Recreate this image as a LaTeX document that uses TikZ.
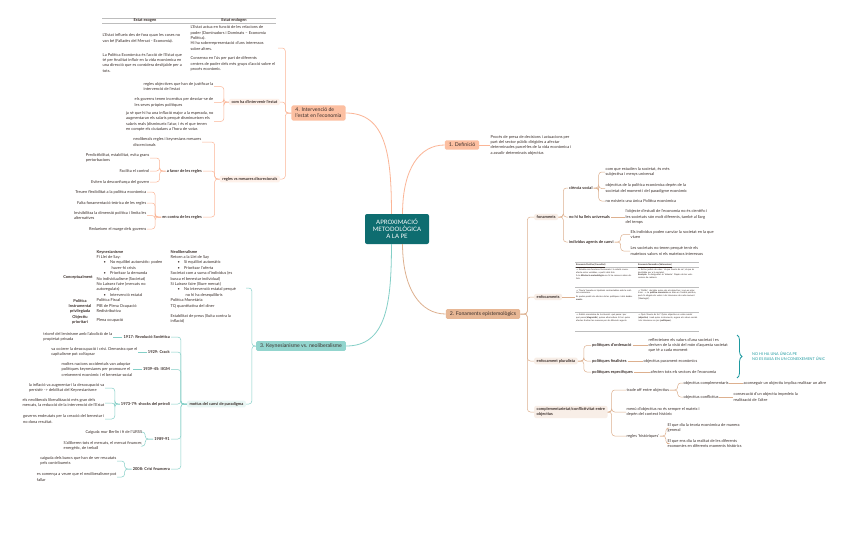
\documentclass[tikz,border=0pt]{standalone}
\usepackage{fontspec}
\setmainfont{Lato}
\newfontfamily\arrowfont{DejaVu Sans}
\usetikzlibrary{positioning,calc,decorations.pathreplacing}
\definecolor{deepteal}{HTML}{0E6D70}
\definecolor{peach}{HTML}{FCBFA1}
\definecolor{peachline}{HTML}{FBB596}
\definecolor{peachpale}{HTML}{FEF1EA}
\definecolor{tan}{HTML}{E7B795}
\definecolor{tanline}{HTML}{DDB08F}
\definecolor{tanpale}{HTML}{F8EEE7}
\definecolor{mint}{HTML}{93D5CE}
\definecolor{mintline}{HTML}{84CFC7}
\definecolor{mintpale}{HTML}{E9F6F4}
\definecolor{ink}{HTML}{3A2E2A}
\definecolor{rule}{HTML}{BDBDBD}
\definecolor{bracecol}{HTML}{1E9AA0}
\newcommand\leaffont{\fontsize{4}{5.3}\selectfont}
\newcommand\tabfont{\fontsize{2.2}{2.6}\selectfont}
\newcommand\arw{{\arrowfont →}}

\begin{document}
\begin{tikzpicture}[x=1pt,y=-1pt,
  leaf/.style={inner sep=0.5pt,align=left,font=\leaffont,text=ink},
  leafr/.style={leaf,anchor=east},
  leafl/.style={leaf,anchor=west},
  key/.style={inner sep=1pt,font=\leaffont\bfseries,text=ink},
  keybox/.style={key,rounded corners=2pt,inner xsep=2.5pt,inner ysep=1.6pt},
  branch/.style={rounded corners=1.5pt,inner xsep=4pt,inner ysep=2.6pt,
                 font=\fontsize{5.2}{6.2}\selectfont,text=ink,align=left},
  cell/.style={inner sep=0pt,anchor=north west,align=left,font=\tabfont,text=ink},
  w4/.style={draw=peachline,line width=0.5pt,rounded corners=3pt},
  w2/.style={draw=tanline,line width=0.5pt,rounded corners=3pt},
  w3/.style={draw=mintline,line width=0.5pt,rounded corners=3pt}]
  \fill[white] (0,0) rectangle (848,536);
  \useasboundingbox (0,0) rectangle (848,536);

  % centre and main branches
  \node[fill=deepteal,rounded corners=2pt,minimum width=64,minimum height=30,text=white,
        align=center,font=\fontsize{6}{7.2}\selectfont] (root) at (397,229)
       {APROXIMACIÓ\\METODOLÒGICA\\A LA PE};
  \node[branch,fill=peach] (b1) at (462,145) {1. Definició};
  \node[branch,fill=tan] (b2) at (483,314) {2. Fonaments epistemològics};
  \node[branch,fill=mint] (b3) at (301,346) {3. Keynesianisme vs. neoliberalisme};
  \node[branch,fill=peach] (b4) at (318.5,113) {4. Intervenció de\\l'estat en l'economia};
  \draw[peachline,line width=0.8pt] (root.110) .. controls +(0,-60) and +(40,0) .. (b4.east);
  \draw[peachline,line width=0.8pt] (root.70) .. controls +(0,-45) and +(-25,0) .. (b1.west);
  \draw[tanline,line width=0.8pt] (root.290) .. controls +(0,45) and +(-25,0) .. (b2.west);
  \draw[mintline,line width=0.8pt] (root.250) .. controls +(0,60) and +(40,0) .. (b3.east);

  % 1. Definició
  \node[leafl] (def) at (490,145) {Procés de presa de decisions i actuacions per\\part del sector públic dirigides a afectar\\determinades parcel·les de la vida econòmica i\\a assolir determinats objectius};
  \draw[w4] (b1.east) -- (def.west);

  % 4. Intervenció de l'estat
  \coordinate (t4) at (278,48);
  \node[keybox,fill=peachpale,anchor=east] (c41) at (280,102) {com ha d'intervenir l'estat};
  \node[keybox,fill=peachpale,anchor=east] (c42) at (280,179) {regles vs mesures discrecionals};
  \draw[w4] (b4.west) -- ++(-6,0) |- (t4);
  \draw[w4] (b4.west) -- ++(-6,0) |- (c41.east);
  \draw[w4] (b4.west) -- ++(-6,0) |- (c42.east);

  \draw[rule,line width=0.9pt] (102,18) -- (276,18);
  \draw[rule,line width=0.4pt] (102,23) -- (276,23);
  \node[key] (exo) at (145,20.5) {Estat exogen};
  \node[key] (endo) at (234,20.5) {Estat endogen};
  \node[leaf,anchor=north west] (exo1) at (102,33) {L'Estat influeix des de fora quan les coses no\\van bé (Fallades del Mercat - Economia).};
  \node[leaf,anchor=north west] (exo2) at (102,52.5) {La Política Econòmica és l'acció de l'Estat que\\té per finalitat influir en la vida econòmica en\\una direcció que es considera desitjable per a\\tots.};
  \node[leaf,anchor=north west] (endo1) at (190,25) {L'Estat actua en funció de les relacions de\\poder (Dominadors i Dominats – Economia\\Política).};
  \node[leaf,anchor=north west] (endo2) at (190,41) {Hi ha sobrerepresentació d'uns interessos\\sobre altres.};
  \node[leaf,anchor=north west] (endo3) at (190,56) {Consenso en l'ús per part de diferents\\centres de poder dels més grups d'acció sobre el\\procés econòmic.};

  \node[leafr] (r1) at (214,86.5) {regles objectives que han de justificar la\\intervenció de l'estat};
  \node[leafr] (r2) at (214,102.5) {els governs tenen incentius per desviar-se de\\les seves pròpies polítiques};
  \node[leafr] (r3) at (214,121.5) {ja sé que hi ha una inflació major a la esperada, no\\augmentaran els salaris perquè disminueixen els\\salaris reals (disminueix l'atur, i és el que tenen\\en compte els ciutadans a l'hora de votar.};
  \draw[w4] (c41.west) -- ++(-5,0) |- (r1.east);
  \draw[w4] (c41.west) -- ++(-5,0) |- (r2.east);
  \draw[w4] (c41.west) -- ++(-5,0) |- (r3.east);

  \node[leafr] (s1) at (202,142) {neoliberals regles i keynesians mesures\\discrecionals};
  \node[key,anchor=east] (fav) at (203,171) {a favor de les regles};
  \node[key,anchor=east] (con) at (203,217) {en contra de les regles};
  \draw[w4] (c42.west) -- ++(-5,0) |- (s1.east);
  \draw[w4] (c42.west) -- ++(-5,0) |- (fav.east);
  \draw[w4] (c42.west) -- ++(-5,0) |- (con.east);
  \node[leafr] (fav1) at (150,158) {Predictibilitat, estabilitat, evita grans\\pertorbacions};
  \node[leafr] (fav2) at (150,171) {Facilita el control};
  \node[leafr] (fav3) at (150,182) {Eviten la desconfiança del govern};
  \draw[w4] (fav.west) -- ++(-6,0) |- (fav1.east);
  \draw[w4] (fav.west) -- ++(-6,0) |- (fav2.east);
  \draw[w4] (fav.west) -- ++(-6,0) |- (fav3.east);
  \node[leafr] (con1) at (147,192) {Treuen flexibilitat a la política econòmica};
  \node[leafr] (con2) at (147,203) {Falta fonamentació teòrica de les regles};
  \node[leafr] (con3) at (147,215.5) {Invisibilitza la dimensió política i limita les\\alternatives};
  \node[leafr] (con4) at (147,229) {Redueixen el marge dels governs};
  \draw[w4] (con.west) -- ++(-6,0) |- (con1.east);
  \draw[w4] (con.west) -- ++(-6,0) |- (con2.east);
  \draw[w4] (con.west) -- ++(-6,0) |- (con3.east);
  \draw[w4] (con.west) -- ++(-6,0) |- (con4.east);

  % 3. Keynesianisme vs. neoliberalisme
  \coordinate (t3) at (246,288);
  \node[keybox,fill=mintpale,anchor=east] (mot) at (246,404) {motius del canvi de paradigma};
  \draw[w3] (b3.west) -- ++(-4,0) |- (t3);
  \draw[w3] (b3.west) -- ++(-4,0) |- (mot.east);

  \node[key] (kconc) at (78,277) {Conceptualment};
  \node[key,align=center,font=\fontsize{4}{4.8}\selectfont\bfseries] (kpol) at (80,306.5) {Política\\Instrumental\\privilegiada};
  \node[key,align=center,font=\fontsize{4}{4.8}\selectfont\bfseries] (kobj) at (80,319.5) {Objectiu\\prioritari};
  \node[leaf,anchor=north west,font=\fontsize{4}{5.4}\selectfont] (keyn) at (96,249.5)
       {\textbf{Keynesianisme}\\
        Fi Llei de Say:\\
        \hspace*{7pt}\textbullet\hspace*{4pt}No equilibri automàtic: poden\\
        \hspace*{15pt}haver-hi crisis\\
        \hspace*{7pt}\textbullet\hspace*{4pt}Prioritzar la demanda\\
        No individualisme (Societat)\\
        No Laissez faire (mercats no\\
        autoregulats)\\
        \hspace*{7pt}\textbullet\hspace*{4pt}Intervenció estatal\\
        Política Fiscal\\
        PIB de Plena Ocupació\\
        Redistributiva\\[3.5pt]
        Plena ocupació};
  \node[leaf,anchor=north west,font=\fontsize{4}{5.4}\selectfont] (neol) at (170,249.5)
       {\textbf{Neoliberalisme}\\
        Retorn a la Llei de Say\\
        \hspace*{7pt}\textbullet\hspace*{4pt}Sí equilibri automàtic\\
        \hspace*{7pt}\textbullet\hspace*{4pt}Prioritzar l'oferta\\
        Societat com a suma d'individus (es\\
        busca el benestar individual)\\
        Sí Laissez faire (lliure mercat)\\
        \hspace*{7pt}\textbullet\hspace*{4pt}No intervenció estatal perquè\\
        \hspace*{15pt}no hi ha desequilibris\\
        Política Monetària\\
        TQ quantitativa del diner\\[4.5pt]
        Estabilitat de preus (lluita contra la\\
        inflació)};

  \node[key,anchor=east] (y1) at (171,337) {1917: Revolució Soviètica};
  \node[key,anchor=east] (y2) at (171,352) {1929: Crack};
  \node[key,anchor=east] (y3) at (171,369.5) {1939-45: IIGM};
  \node[key,anchor=east] (y4) at (171,404) {1973-79: shocks del petroli};
  \node[key,anchor=east] (y5) at (171,439) {1989-91};
  \node[key,anchor=east] (y6) at (171,469) {2008: Crisi financera};
  \foreach \y in {y1,y2,y3,y4,y5,y6}
    \draw[w3] (mot.west) -- ++(-6,0) |- (\y.east);
  \node[leafr] (m1) at (113,337) {triomf del leninisme amb l'abolició de la\\propietat privada};
  \node[leafr] (m2) at (138,352) {va ocórrer la desocupació i crisi. Demostra que el\\capitalisme pot col·lapsar};
  \node[leafr] (m3) at (133,369.5) {moltes nacions occidentals van adoptar\\polítiques keynesianes per promoure el\\creixement econòmic i el benestar social};
  \draw[w3] (y1.west) -- (m1.east);
  \draw[w3] (y2.west) -- (m2.east);
  \draw[w3] (y3.west) -- (m3.east);
  \node[leafr] (m41) at (105,388) {la inflació va augmentar i la desocupació va\\persistir -> debilitat del Keynesianisme};
  \node[leafr] (m42) at (105,403) {els neoliberals liberalització més gran dels\\mercats, la reducció de la intervenció de l'Estat};
  \node[leafr] (m43) at (105,419) {governs endeutats per la creació del benestar i\\no dona resultat.};
  \foreach \m in {m41,m42,m43}
    \draw[w3] (y4.west) -- ++(-5,0) |- (\m.east);
  \node[leafr] (m51) at (143,432) {Caiguda mur Berlín i fi de l'URSS};
  \node[leafr] (m52) at (143,446) {S'alliberen tots el mercats, el mercat financer,\\energètic, de treball};
  \foreach \m in {m51,m52}
    \draw[w3] (y5.west) -- ++(-8,0) |- (\m.east);
  \node[leafr] (m61) at (117,461) {caiguda dels bancs que han de ser rescatats\\pels contribuents};
  \node[leafr] (m62) at (117,477) {es comença a veure que el neoliberalisme pot\\fallar};
  \foreach \m in {m61,m62}
    \draw[w3] (y6.west) -- ++(-7,0) |- (\m.east);

  % 2. Fonaments epistemològics
  \node[keybox,fill=tanpale,anchor=west] (fon) at (534,217) {fonaments};
  \node[keybox,fill=tanpale,anchor=west] (enf) at (534,297) {enfocaments};
  \node[keybox,fill=tanpale,anchor=west] (plu) at (534,361) {enfocament pluralista};
  \node[keybox,fill=tanpale,anchor=west,align=left] (cmp) at (534,412) {complementarietat/conflictivitat entre\\objectius};
  \foreach \c in {fon,enf,plu,cmp}
    \draw[w2] (b2.east) -- ++(7,0) |- (\c.west);

  \node[key,anchor=west] (cs) at (568,188) {ciència social};
  \node[key,anchor=west] (lu) at (568,217) {no hi ha lleis universals};
  \node[key,anchor=west] (ia) at (568,242) {individus agents de canvi};
  \foreach \c in {cs,lu,ia}
    \draw[w2] (fon.east) -- ++(5,0) |- (\c.west);
  \node[leafl] (cs1) at (605,172) {com que estudien la societat, és més\\subjectiva i menys universal};
  \node[leafl] (cs2) at (605,188.5) {objectius de la política econòmica depèn de la\\societat del moment i del paradigme econòmic};
  \node[leafl] (cs3) at (605,201) {no existeix una única Política econòmica};
  \foreach \c in {cs1,cs2,cs3}
    \draw[w2] (cs.east) -- ++(5,0) |- (\c.west);
  \node[leafl] (lu1) at (625,217) {l'objecte d'estudi de l'economia no és científic i\\les societats són molt diferents, també al llarg\\del temps};
  \draw[w2] (lu.east) -- (lu1.west);
  \node[leafl] (ia1) at (630,234.5) {Els individus poden canviar la societat en la que\\viuen};
  \node[leafl] (ia2) at (630,251) {Les societats no tenen perquè tenir els\\mateixos valors ni els mateixos interessos};
  \foreach \c in {ia1,ia2}
    \draw[w2] (ia.east) -- ++(6,0) |- (\c.west);

  \coordinate (t2) at (575,297);
  \draw[w2] (enf.east) -- (t2);
  \draw[rule,line width=0.8pt] (575,262) -- (699,262);
  \draw[rule,line width=0.3pt] (575,267) -- (699,267);
  \draw[rule,line width=0.3pt] (575,287.5) -- (699,287.5);
  \draw[rule,line width=0.3pt] (575,312.5) -- (699,312.5);
  \draw[rule,line width=0.8pt] (575,331) -- (699,331);
  \node[cell,font=\tabfont\bfseries] (ep) at (576,263.3) {\underline{Economia Positiva (Causalitat)}};
  \node[cell,font=\tabfont\bfseries] (en) at (638,263.3) {\underline{Economia Normativa (Valoracions)}};
  \node[cell,text width=57pt] (ep1) at (576,268.6) {\arw{} Estudia com funciona l'economia i la relació causa-efecte entre variables, a partir dels fets.\\[1pt] A la \textbf{diferència metodològica} no hi ha consens sobre els fets.};
  \node[cell,text width=60pt] (en1) at (638,268.6) {\arw{} Es fan judicis de valor: `el que hauria de ser', el que és desitjable per a la societat.\\ \textbf{Exemple:} la desigualtat és `dolenta'. Depèn de les valoracions de cadascú.};
  \node[cell,text width=57pt] (ep2) at (576,289.5) {\arw{} `Teoria' basada en hipòtesis contrastables amb la realitat econòmica.\\[1pt] Es poden predir els efectes de les polítiques i dels \textbf{instruments}.};
  \node[cell,text width=60pt] (en2) at (638,289.5) {\arw{} `Polític': decideix quins són els objectius i com es prioritzen. \arw{} La \textbf{política econòmica} es basa en l'anàlisi positiva, però hi afegeix els valors i els interessos de cada moment (`Ideologia').};
  \node[cell,text width=57pt] (ep3) at (576,314) {\arw{} Anàlisi econòmica de la situació: què passa i per què passa (\textbf{diagnòstic}), quines alternatives hi ha i quins efectes tindran les mesures per als diferents agents.};
  \node[cell,text width=60pt] (en3) at (638,314) {\arw{} Què s'hauria de fer? Quins objectius es volen assolir (\textbf{objectius}) i amb quins instruments, segons els valors socials i els interessos en joc (\textbf{polítiques}).};

  \node[key,anchor=west] (po) at (591,345.5) {polítiques d'ordenació};
  \node[key,anchor=west] (pf) at (591,361) {polítiques finalistes};
  \node[key,anchor=west] (pe) at (591,372) {polítiques específiques};
  \foreach \c in {po,pf,pe}
    \draw[w2] (plu.east) -- ++(6,0) |- (\c.west);
  \node[leafl] (po1) at (648,345.5) {reflecteixen els valors d'una societat i es\\deriven de la visió del món d'aquesta societat\\que té a cada moment};
  \node[leafl] (pf1) at (643,361) {objectius purament econòmics};
  \node[leafl] (pe1) at (650,372) {afecten tots els sectors de l'economia};
  \draw[w2] (po.east) -- (po1.west);
  \draw[w2] (pf.east) -- (pf1.west);
  \draw[w2] (pe.east) -- (pe1.west);
  \draw[bracecol,line width=0.8pt,decorate,decoration={brace,amplitude=5pt}] (737,335) -- (737,378);
  \node[anchor=west,inner sep=0pt,align=left,text=bracecol,font=\fontsize{3.8}{5}\selectfont] (nota) at (752,356.5)
       {NO HI HA UNA ÚNICA PE\\NO ES BASA EN UN CONEIXEMENT ÚNIC};

  \node[leafl] (to) at (626,390) {trade off entre objectius};
  \node[leafl] (mn) at (626,412) {menú d'objectius no és sempre el mateix i\\depèn del context històric};
  \node[leafl] (rh) at (626,436) {regles `històriques'};
  \foreach \c in {to,mn,rh}
    \draw[w2] (cmp.east) -- ++(4,0) |- (\c.west);
  \node[leafl] (oc) at (683,383) {objectius complementaris};
  \node[leafl] (of) at (683,397) {objectius conflictius};
  \foreach \c in {oc,of}
    \draw[w2] (to.east) -- ++(8,0) |- (\c.west);
  \node[leafl] (oc1) at (743,383) {aconseguir un objectiu implica realitzar un altre};
  \node[leafl] (of1) at (733,397) {consecució d'un objectiu impedeix la\\realització de l'altre};
  \draw[w2] (oc.east) -- (oc1.west);
  \draw[w2] (of.east) -- (of1.west);
  \node[leafl] (rh1) at (667,428) {El que diu la teoria econòmica de manera\\general};
  \node[leafl] (rh2) at (667,443.5) {El que ens diu la realitat de les diferents\\economies en diferents moments històrics};
  \foreach \c in {rh1,rh2}
    \draw[w2] (rh.east) -- ++(6,0) |- (\c.west);
\end{tikzpicture}
\end{document}
